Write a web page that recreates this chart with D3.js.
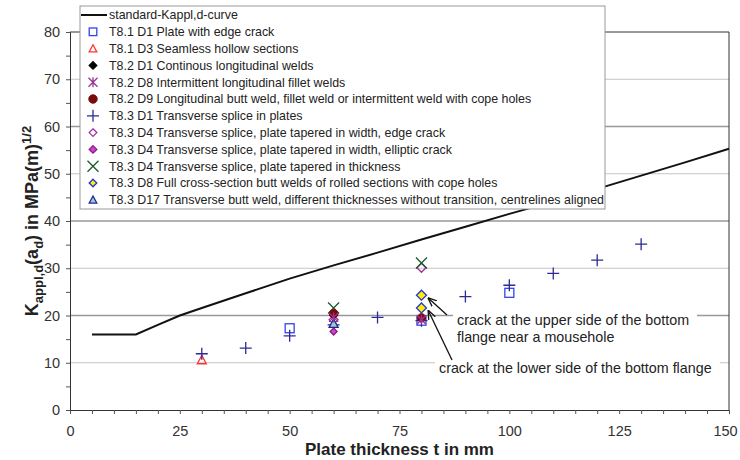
<!DOCTYPE html>
<html>
<head>
<meta charset="utf-8">
<script src="https://cdn.jsdelivr.net/npm/d3@7"></script>
<style>
  body { margin: 0; background: #fff; }
  svg { font-family: "Liberation Sans", Arial, sans-serif; }
</style>
</head>
<body>
<div id="chart"></div>
<script>
// Standard curve (plate thickness t, K value)
const curveT = [5, 15, 20, 25, 30, 40, 50, 60, 70, 80, 90, 100, 110, 120, 130, 140, 150];
const curveK = [16, 16, 18, 20, 21.6, 24.7, 27.8, 30.6, 33.3, 36.1, 38.8, 41.5, 44.1, 46.8, 49.6, 52.4, 55.3];

// Scatter series: [t, K]
const t81d1 = [[50, 17.3], [80, 18.9], [100, 24.8]];
const t81d3 = [[30, 10.6]];
const t82d1 = [[60, 20.1]];
const t82d8 = [[80, 19.1], [60, 19.6]];
const t82d9 = [[80, 19.5], [60, 20.4]];
const t83d1 = [[30, 11.9], [40, 13.1], [50, 15.7], [60, 18.0], [70, 19.6], [80, 18.9],
               [90, 24.0], [100, 26.4], [110, 28.9], [120, 31.7], [130, 35.1]];
const t83d4edge = [[60, 19.1], [80, 30.1]];
const t83d4ell = [[60, 16.6]];
const t83d4thick = [[60, 21.6], [80, 31.1]];
const t83d8 = [[80, 24.3], [80, 21.6]];
const t83d17 = [[60, 18.3]];

const xTicks = [0, 25, 50, 75, 100, 125, 150];
const yTicks = [0, 10, 20, 30, 40, 50, 60, 70, 80];

const legendLabels = [
  "standard-Kappl,d-curve",
  "T8.1 D1 Plate with edge crack",
  "T8.1 D3 Seamless hollow sections",
  "T8.2 D1 Continous longitudinal welds",
  "T8.2 D8 Intermittent longitudinal fillet welds",
  "T8.2 D9 Longitudinal butt weld, fillet weld or intermittent weld with cope holes",
  "T8.3 D1 Transverse splice in plates",
  "T8.3 D4 Transverse splice, plate tapered in width, edge crack",
  "T8.3 D4 Transverse splice, plate tapered in width, elliptic crack",
  "T8.3 D4  Transverse splice, plate tapered in thickness",
  "T8.3 D8 Full cross-section butt welds of rolled sections with cope holes",
  "T8.3 D17 Transverse butt weld, different thicknesses without transition, centrelines aligned"
];

const width = 740, height = 460;
const margin = { top: 32, right: 11, bottom: 50, left: 70 };

const svg = d3.select("#chart").append("svg")
  .attr("width", width).attr("height", height);

const x = d3.scaleLinear().domain([0, 150]).range([margin.left, width - margin.right]);
const y = d3.scaleLinear().domain([0, 80]).range([height - margin.bottom, margin.top]);

// Gridlines
svg.append("g")
  .selectAll("line")
  .data(yTicks.filter((d) => d > 0 && d < 80))
  .join("line")
  .attr("x1", x(0)).attr("x2", x(150))
  .attr("y1", (d) => y(d)).attr("y2", (d) => y(d))
  .attr("stroke", (d) => (d % 20 === 0 ? "#999" : "#c4c4c4"))
  .attr("stroke-width", (d) => (d % 20 === 0 ? 1.6 : 1));

// Axes
const xAxis = d3.axisBottom(x).tickValues(d3.range(0, 151, 5)).tickSize(4)
  .tickFormat((d) => (xTicks.includes(d) ? d : ""));
svg.append("g")
  .attr("transform", `translate(0,${y(0)})`)
  .call(xAxis)
  .call((g) => g.select(".domain").attr("stroke", "#333"))
  .call((g) => g.selectAll(".tick line").attr("stroke", "#555"))
  .call((g) => g.selectAll("text").attr("font-size", 14.5).attr("fill", "#333").attr("dy", "1.3em")
    .attr("dx", (d) => (d === 150 ? -4 : 0)));

const yAxis = d3.axisLeft(y).tickValues(d3.range(0, 81, 5)).tickSize(4)
  .tickFormat((d) => (yTicks.includes(d) ? d : ""));
svg.append("g")
  .attr("transform", `translate(${x(0)},0)`)
  .call(yAxis)
  .call((g) => g.select(".domain").attr("stroke", "#333"))
  .call((g) => g.selectAll(".tick line").attr("stroke", "#555"))
  .call((g) => g.selectAll("text").attr("font-size", 14.5).attr("fill", "#333").attr("dx", "-0.2em"));

// Plot frame (top and right)
svg.append("path")
  .attr("d", `M${x(0)},${y(80)}H${x(150)}V${y(0)}`)
  .attr("fill", "none").attr("stroke", "#333");

// Standard curve
const line = d3.line().x((d) => x(d[0])).y((d) => y(d[1]));
svg.append("path")
  .datum(curveT.map((t, i) => [t, curveK[i]]))
  .attr("d", line)
  .attr("fill", "none").attr("stroke", "#111").attr("stroke-width", 2);

// Marker drawing
const styles = [
  null,
  { type: "square", stroke: "#3344ee", fill: "none" },
  { type: "triangle", stroke: "#ff3333", fill: "none" },
  { type: "diamond", stroke: "#000", fill: "#000", size: 4 },
  { type: "asterisk", stroke: "#993399" },
  { type: "circle", stroke: "#7a0a0a", fill: "#7a0a0a" },
  { type: "plus", stroke: "#2a2a9a" },
  { type: "diamond", stroke: "#a030a0", fill: "none", size: 4.5 },
  { type: "diamond", stroke: "#8a1a8a", fill: "#cc44cc", size: 3.5 },
  { type: "cross", stroke: "#1a5a2a" },
  { type: "diamond", stroke: "#2233dd", fill: "#ffee00", size: 5 },
  { type: "triangle", stroke: "#22229a", fill: "#99cccc" }
];

function drawMarker(g, st) {
  const s = st.size || 4.5;
  if (st.type === "square") {
    g.append("rect").attr("x", -s).attr("y", -s).attr("width", 2 * s).attr("height", 2 * s)
      .attr("fill", st.fill).attr("stroke", st.stroke).attr("stroke-width", 1.3);
  } else if (st.type === "triangle") {
    g.append("path").attr("d", `M0,${-s}L${s},${s * 0.85}L${-s},${s * 0.85}Z`)
      .attr("fill", st.fill).attr("stroke", st.stroke).attr("stroke-width", 1.3);
  } else if (st.type === "diamond") {
    g.append("path").attr("d", `M0,${-s}L${s},0L0,${s}L${-s},0Z`)
      .attr("fill", st.fill).attr("stroke", st.stroke).attr("stroke-width", 1.3);
  } else if (st.type === "circle") {
    g.append("circle").attr("r", 4.2).attr("fill", st.fill).attr("stroke", st.stroke);
  } else if (st.type === "plus") {
    g.append("path").attr("d", "M-6,0H6M0,-6V6")
      .attr("stroke", st.stroke).attr("stroke-width", 1.3);
  } else if (st.type === "cross") {
    g.append("path").attr("d", "M-5.5,-5.5L5.5,5.5M5.5,-5.5L-5.5,5.5")
      .attr("stroke", st.stroke).attr("stroke-width", 1.3);
  } else if (st.type === "asterisk") {
    g.append("path").attr("d", "M-4.5,-4.5L4.5,4.5M4.5,-4.5L-4.5,4.5M0,-5V5")
      .attr("stroke", st.stroke).attr("stroke-width", 1.3);
  }
}

// Draw order roughly as in reference (later on top)
const seriesData = [null, t81d1, t81d3, t82d1, t82d8, t82d9, t83d1, t83d4edge, t83d4ell, t83d4thick, t83d8, t83d17];
const drawOrder = [1, 2, 6, 7, 8, 3, 9, 10, 11, 5, 4];
drawOrder.forEach((si) => {
  svg.append("g")
    .selectAll("g")
    .data(seriesData[si])
    .join("g")
    .attr("transform", (d) => `translate(${x(d[0])},${y(d[1])})`)
    .each(function () { drawMarker(d3.select(this), styles[si]); });
});

// Annotations
const notes = [
  { tip: [80, 24.3], from: [447, 315], lines: ["crack at the upper side of the bottom", "flange near a mousehole"], tx: 457, ty: 325, box: [453, 308, 244, 38] },
  { tip: [80, 21.6], from: [452, 360], lines: ["crack at the lower side of the bottom flange"], tx: 439, ty: 373, box: [435, 356, 285, 20] }
];
svg.append("defs").append("marker")
  .attr("id", "arrow").attr("viewBox", "0 0 10 10").attr("refX", 9).attr("refY", 5)
  .attr("markerWidth", 7).attr("markerHeight", 7).attr("orient", "auto")
  .append("path").attr("d", "M0,1L10,5L0,9").attr("fill", "none").attr("stroke", "#111").attr("stroke-width", 1.4);

notes.forEach((n) => {
  svg.append("rect").attr("x", n.box[0]).attr("y", n.box[1]).attr("width", n.box[2]).attr("height", n.box[3])
    .attr("fill", "#fff");
  const tipX = x(n.tip[0]) + 7, tipY = y(n.tip[1]) + 3;
  svg.append("line").attr("x1", n.from[0]).attr("y1", n.from[1]).attr("x2", tipX).attr("y2", tipY)
    .attr("stroke", "#111").attr("stroke-width", 1.3).attr("marker-end", "url(#arrow)");
  svg.append("text").attr("x", n.tx).attr("y", n.ty).attr("font-size", 14.3).attr("fill", "#222")
    .selectAll("tspan").data(n.lines).join("tspan")
    .attr("x", n.tx).attr("dy", (d, i) => (i === 0 ? 0 : 17)).text((d) => d);
});

// Legend
const lg = svg.append("g");
lg.append("rect").attr("x", 80).attr("y", 6).attr("width", 525).attr("height", 203)
  .attr("fill", "#fff").attr("stroke", "#999");
legendLabels.forEach((lab, i) => {
  const cy = 15 + i * 16.8;
  if (i === 0) {
    lg.append("line").attr("x1", 81).attr("x2", 107).attr("y1", cy).attr("y2", cy)
      .attr("stroke", "#111").attr("stroke-width", 2);
  } else {
    const g = lg.append("g").attr("transform", `translate(93,${cy})`);
    drawMarker(g, Object.assign({}, styles[i], { size: 3.8 }));
  }
  lg.append("text").attr("x", 109).attr("y", cy).attr("dy", "0.35em")
    .attr("font-size", 12.4).attr("fill", "#222").text(lab);
});

// Axis titles
svg.append("text")
  .attr("x", (x(0) + x(150)) / 2).attr("y", 455)
  .attr("text-anchor", "middle").attr("font-size", 17).attr("font-weight", "bold").attr("fill", "#222")
  .text("Plate thickness t in mm");

const yl = svg.append("text")
  .attr("transform", `translate(38,${(y(0) + y(80)) / 2}) rotate(-90)`)
  .attr("text-anchor", "middle").attr("font-size", 18).attr("font-weight", "bold").attr("fill", "#222");
yl.append("tspan").text("K");
yl.append("tspan").attr("font-size", 13).attr("dy", 5).text("appl,d");
yl.append("tspan").attr("dy", -5).text("(a");
yl.append("tspan").attr("font-size", 13).attr("dy", 5).text("d");
yl.append("tspan").attr("dy", -5).text(") in MPa(m)");
yl.append("tspan").attr("font-size", 13).attr("dy", -7).text("1/2");
</script>
</body>
</html>
